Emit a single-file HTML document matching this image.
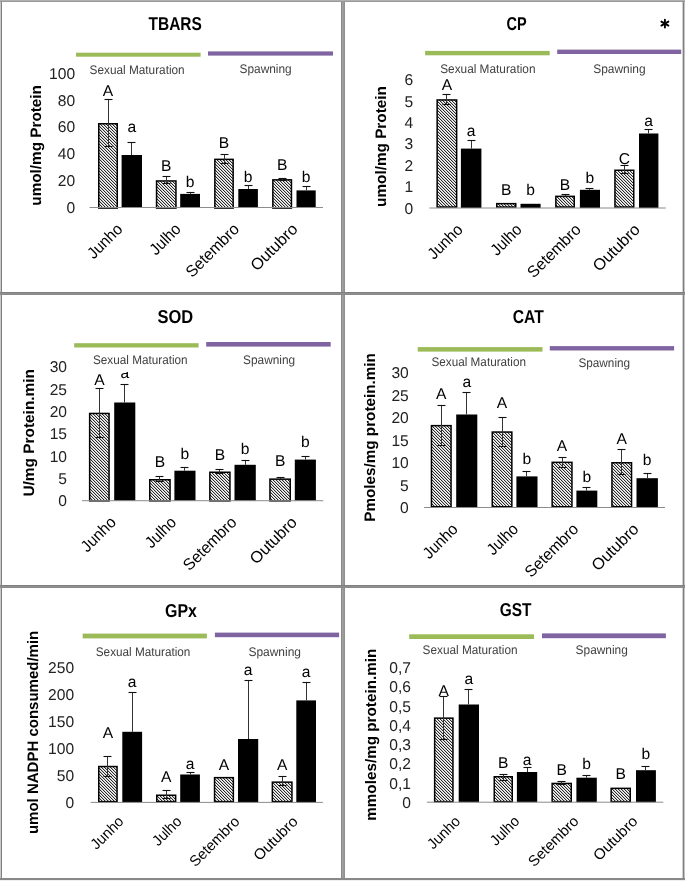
<!DOCTYPE html>
<html><head><meta charset="utf-8"><style>
html,body{margin:0;padding:0;background:#fff;width:685px;height:881px;overflow:hidden;font-family:"Liberation Sans", sans-serif;}
</style></head><body>
<svg width="685" height="881" viewBox="0 0 685 881" text-rendering="geometricPrecision" style="position:absolute;left:0;top:0;will-change:transform" font-family='"Liberation Sans", sans-serif'>
<defs><pattern id="hatch" patternUnits="userSpaceOnUse" x="0" y="0" width="3" height="3"><rect x="0" y="0" width="1" height="1" fill="#2a2a2a"/><rect x="1" y="0" width="1" height="1" fill="#c4c4c4"/><rect x="2" y="0" width="1" height="1" fill="#fafafa"/><rect x="1" y="1" width="1" height="1" fill="#2a2a2a"/><rect x="2" y="1" width="1" height="1" fill="#c4c4c4"/><rect x="0" y="1" width="1" height="1" fill="#fafafa"/><rect x="2" y="2" width="1" height="1" fill="#2a2a2a"/><rect x="0" y="2" width="1" height="1" fill="#c4c4c4"/><rect x="1" y="2" width="1" height="1" fill="#fafafa"/></pattern></defs>
<rect x="0" y="0" width="685" height="881" fill="#fff"/>
<clipPath id="c3"><rect x="0" y="372.0" width="685" height="881"/></clipPath>
<text x="148.50" y="29.70" font-size="18.7" font-weight="bold" text-anchor="start" fill="#000" textLength="53.40" lengthAdjust="spacingAndGlyphs" >TBARS</text>
<rect x="76" y="52.7" width="124.60" height="4.00" fill="#9BBB59"/>
<rect x="208" y="51.4" width="125.00" height="4.20" fill="#8064A2"/>
<text x="89.60" y="73.60" font-size="12.5" font-weight="normal" text-anchor="start" fill="#404040" textLength="95.10" lengthAdjust="spacingAndGlyphs" >Sexual Maturation</text>
<text x="239.60" y="72.80" font-size="12.5" font-weight="normal" text-anchor="start" fill="#404040" textLength="52.10" lengthAdjust="spacingAndGlyphs" >Spawning</text>
<text x="75.10" y="212.84" font-size="15.6" font-weight="normal" text-anchor="end" fill="#222" >0</text>
<text x="75.10" y="186.02" font-size="15.6" font-weight="normal" text-anchor="end" fill="#222" >20</text>
<text x="75.10" y="159.20" font-size="15.6" font-weight="normal" text-anchor="end" fill="#222" >40</text>
<text x="75.10" y="132.38" font-size="15.6" font-weight="normal" text-anchor="end" fill="#222" >60</text>
<text x="75.10" y="105.56" font-size="15.6" font-weight="normal" text-anchor="end" fill="#222" >80</text>
<text x="75.10" y="78.74" font-size="15.6" font-weight="normal" text-anchor="end" fill="#222" >100</text>
<text x="0.00" y="0.00" font-size="15.2" font-weight="bold" text-anchor="start" fill="#000" textLength="120.60" lengthAdjust="spacingAndGlyphs" transform="translate(40.60,205.70) rotate(-90)" >umol/mg Protein</text>
<rect x="98.75" y="123.75" width="18.50" height="84.30" fill="url(#hatch)" stroke="#000" stroke-width="1.5"/>
<line x1="108.50" y1="99.40" x2="108.50" y2="146.90" stroke="#333" stroke-width="1.0"/>
<line x1="104.50" y1="99.50" x2="112.50" y2="99.50" stroke="#111" stroke-width="1.1"/>
<line x1="104.50" y1="146.50" x2="112.50" y2="146.50" stroke="#111" stroke-width="1.1"/>
<text x="108.00" y="96.30" font-size="15.6" font-weight="normal" text-anchor="middle" fill="#000" >A</text>
<rect x="121.60" y="155.00" width="20.40" height="52.50" fill="#000"/>
<line x1="131.50" y1="142.20" x2="131.50" y2="155.00" stroke="#333" stroke-width="1.0"/>
<line x1="127.50" y1="142.50" x2="135.50" y2="142.50" stroke="#111" stroke-width="1.1"/>
<text x="131.80" y="132.20" font-size="15.6" font-weight="normal" text-anchor="middle" fill="#000" >a</text>
<rect x="156.55" y="180.95" width="19.40" height="27.10" fill="url(#hatch)" stroke="#000" stroke-width="1.5"/>
<line x1="166.50" y1="176.40" x2="166.50" y2="183.00" stroke="#333" stroke-width="1.0"/>
<line x1="162.50" y1="176.50" x2="170.50" y2="176.50" stroke="#111" stroke-width="1.1"/>
<line x1="162.50" y1="183.50" x2="170.50" y2="183.50" stroke="#111" stroke-width="1.1"/>
<text x="166.25" y="170.80" font-size="15.6" font-weight="normal" text-anchor="middle" fill="#000" >B</text>
<rect x="180.20" y="193.90" width="19.80" height="13.60" fill="#000"/>
<line x1="190.50" y1="192.00" x2="190.50" y2="193.90" stroke="#333" stroke-width="1.0"/>
<line x1="186.50" y1="192.50" x2="194.50" y2="192.50" stroke="#111" stroke-width="1.1"/>
<text x="190.10" y="186.60" font-size="15.6" font-weight="normal" text-anchor="middle" fill="#000" >b</text>
<rect x="214.85" y="159.35" width="18.30" height="48.70" fill="url(#hatch)" stroke="#000" stroke-width="1.5"/>
<line x1="224.50" y1="154.50" x2="224.50" y2="163.30" stroke="#333" stroke-width="1.0"/>
<line x1="220.50" y1="154.50" x2="228.50" y2="154.50" stroke="#111" stroke-width="1.1"/>
<line x1="220.50" y1="163.50" x2="228.50" y2="163.50" stroke="#111" stroke-width="1.1"/>
<text x="224.00" y="148.10" font-size="15.6" font-weight="normal" text-anchor="middle" fill="#000" >B</text>
<rect x="238.30" y="189.00" width="19.60" height="18.50" fill="#000"/>
<line x1="248.50" y1="185.70" x2="248.50" y2="189.00" stroke="#333" stroke-width="1.0"/>
<line x1="244.50" y1="185.50" x2="252.50" y2="185.50" stroke="#111" stroke-width="1.1"/>
<text x="248.10" y="181.90" font-size="15.6" font-weight="normal" text-anchor="middle" fill="#000" >b</text>
<rect x="272.85" y="179.85" width="18.60" height="28.20" fill="url(#hatch)" stroke="#000" stroke-width="1.5"/>
<line x1="282.50" y1="178.40" x2="282.50" y2="180.00" stroke="#333" stroke-width="1.0"/>
<line x1="278.50" y1="178.50" x2="286.50" y2="178.50" stroke="#111" stroke-width="1.1"/>
<line x1="278.50" y1="180.50" x2="286.50" y2="180.50" stroke="#111" stroke-width="1.1"/>
<text x="282.15" y="170.30" font-size="15.6" font-weight="normal" text-anchor="middle" fill="#000" >B</text>
<rect x="296.50" y="190.40" width="19.20" height="17.10" fill="#000"/>
<line x1="306.50" y1="186.40" x2="306.50" y2="190.40" stroke="#333" stroke-width="1.0"/>
<line x1="302.50" y1="186.50" x2="310.50" y2="186.50" stroke="#111" stroke-width="1.1"/>
<text x="306.10" y="181.90" font-size="15.6" font-weight="normal" text-anchor="middle" fill="#000" >b</text>
<rect x="89.5" y="207.00" width="233.50" height="1" fill="#8c8c8c"/>
<text x="0.00" y="0.00" font-size="16.2" font-weight="normal" text-anchor="end" fill="#000" textLength="42.00" lengthAdjust="spacingAndGlyphs" transform="translate(123.49,230.10) rotate(-45)" >Junho</text>
<text x="0.00" y="0.00" font-size="16.2" font-weight="normal" text-anchor="end" fill="#000" textLength="36.50" lengthAdjust="spacingAndGlyphs" transform="translate(181.86,230.10) rotate(-45)" >Julho</text>
<text x="0.00" y="0.00" font-size="16.2" font-weight="normal" text-anchor="end" fill="#000" textLength="68.00" lengthAdjust="spacingAndGlyphs" transform="translate(240.24,230.10) rotate(-45)" >Setembro</text>
<text x="0.00" y="0.00" font-size="16.2" font-weight="normal" text-anchor="end" fill="#000" textLength="59.00" lengthAdjust="spacingAndGlyphs" transform="translate(298.61,230.10) rotate(-45)" >Outubro</text>
<text x="506.60" y="29.80" font-size="18.7" font-weight="bold" text-anchor="start" fill="#000" textLength="20.10" lengthAdjust="spacingAndGlyphs" >CP</text>
<rect x="425.1" y="50.9" width="124.60" height="4.40" fill="#9BBB59"/>
<rect x="557.2" y="49.6" width="124.00" height="4.40" fill="#8064A2"/>
<text x="440.20" y="73.10" font-size="12.5" font-weight="normal" text-anchor="start" fill="#404040" textLength="95.30" lengthAdjust="spacingAndGlyphs" >Sexual Maturation</text>
<text x="593.20" y="72.80" font-size="12.5" font-weight="normal" text-anchor="start" fill="#404040" textLength="52.40" lengthAdjust="spacingAndGlyphs" >Spawning</text>
<text x="413.30" y="213.64" font-size="15.6" font-weight="normal" text-anchor="end" fill="#222" >0</text>
<text x="413.30" y="192.26" font-size="15.6" font-weight="normal" text-anchor="end" fill="#222" >1</text>
<text x="413.30" y="170.88" font-size="15.6" font-weight="normal" text-anchor="end" fill="#222" >2</text>
<text x="413.30" y="149.49" font-size="15.6" font-weight="normal" text-anchor="end" fill="#222" >3</text>
<text x="413.30" y="128.11" font-size="15.6" font-weight="normal" text-anchor="end" fill="#222" >4</text>
<text x="413.30" y="106.73" font-size="15.6" font-weight="normal" text-anchor="end" fill="#222" >5</text>
<text x="413.30" y="85.34" font-size="15.6" font-weight="normal" text-anchor="end" fill="#222" >6</text>
<text x="0.00" y="0.00" font-size="15.2" font-weight="bold" text-anchor="start" fill="#000" textLength="120.80" lengthAdjust="spacingAndGlyphs" transform="translate(385.70,206.90) rotate(-90)" >umol/mg Protein</text>
<rect x="437.15" y="99.95" width="19.50" height="107.10" fill="url(#hatch)" stroke="#000" stroke-width="1.5"/>
<line x1="446.50" y1="94.30" x2="446.50" y2="104.80" stroke="#333" stroke-width="1.0"/>
<line x1="442.50" y1="94.50" x2="450.50" y2="94.50" stroke="#111" stroke-width="1.1"/>
<line x1="442.50" y1="104.50" x2="450.50" y2="104.50" stroke="#111" stroke-width="1.1"/>
<text x="446.90" y="89.60" font-size="15.6" font-weight="normal" text-anchor="middle" fill="#000" >A</text>
<rect x="460.90" y="148.60" width="20.50" height="59.40" fill="#000"/>
<line x1="471.50" y1="140.30" x2="471.50" y2="148.60" stroke="#333" stroke-width="1.0"/>
<line x1="467.50" y1="140.50" x2="475.50" y2="140.50" stroke="#111" stroke-width="1.1"/>
<text x="471.15" y="135.70" font-size="15.6" font-weight="normal" text-anchor="middle" fill="#000" >a</text>
<rect x="496.75" y="203.65" width="19.00" height="3.40" fill="url(#hatch)" stroke="#000" stroke-width="1.5"/>
<text x="506.25" y="195.20" font-size="15.6" font-weight="normal" text-anchor="middle" fill="#000" >B</text>
<rect x="520.50" y="203.80" width="20.10" height="4.20" fill="#000"/>
<text x="530.55" y="195.20" font-size="15.6" font-weight="normal" text-anchor="middle" fill="#000" >b</text>
<rect x="555.85" y="196.35" width="18.40" height="10.70" fill="url(#hatch)" stroke="#000" stroke-width="1.5"/>
<line x1="565.50" y1="194.30" x2="565.50" y2="196.90" stroke="#333" stroke-width="1.0"/>
<line x1="561.50" y1="194.50" x2="569.50" y2="194.50" stroke="#111" stroke-width="1.1"/>
<line x1="561.50" y1="196.50" x2="569.50" y2="196.50" stroke="#111" stroke-width="1.1"/>
<text x="565.05" y="190.30" font-size="15.6" font-weight="normal" text-anchor="middle" fill="#000" >B</text>
<rect x="579.90" y="189.80" width="20.10" height="18.20" fill="#000"/>
<line x1="589.50" y1="188.10" x2="589.50" y2="189.80" stroke="#333" stroke-width="1.0"/>
<line x1="585.50" y1="188.50" x2="593.50" y2="188.50" stroke="#111" stroke-width="1.1"/>
<text x="589.95" y="182.80" font-size="15.6" font-weight="normal" text-anchor="middle" fill="#000" >b</text>
<rect x="614.95" y="170.25" width="18.80" height="36.80" fill="url(#hatch)" stroke="#000" stroke-width="1.5"/>
<line x1="624.50" y1="165.80" x2="624.50" y2="173.20" stroke="#333" stroke-width="1.0"/>
<line x1="620.50" y1="165.50" x2="628.50" y2="165.50" stroke="#111" stroke-width="1.1"/>
<line x1="620.50" y1="173.50" x2="628.50" y2="173.50" stroke="#111" stroke-width="1.1"/>
<text x="624.35" y="163.70" font-size="15.6" font-weight="normal" text-anchor="middle" fill="#000" >C</text>
<rect x="639.00" y="133.50" width="19.40" height="74.50" fill="#000"/>
<line x1="648.50" y1="129.00" x2="648.50" y2="133.50" stroke="#333" stroke-width="1.0"/>
<line x1="644.50" y1="129.50" x2="652.50" y2="129.50" stroke="#111" stroke-width="1.1"/>
<text x="648.70" y="125.70" font-size="15.6" font-weight="normal" text-anchor="middle" fill="#000" >a</text>
<rect x="429.4" y="207.50" width="236.40" height="1" fill="#8c8c8c"/>
<text x="0.00" y="0.00" font-size="16.2" font-weight="normal" text-anchor="end" fill="#000" textLength="42.00" lengthAdjust="spacingAndGlyphs" transform="translate(463.75,230.60) rotate(-45)" >Junho</text>
<text x="0.00" y="0.00" font-size="16.2" font-weight="normal" text-anchor="end" fill="#000" textLength="36.50" lengthAdjust="spacingAndGlyphs" transform="translate(522.85,230.60) rotate(-45)" >Julho</text>
<text x="0.00" y="0.00" font-size="16.2" font-weight="normal" text-anchor="end" fill="#000" textLength="68.00" lengthAdjust="spacingAndGlyphs" transform="translate(581.95,230.60) rotate(-45)" >Setembro</text>
<text x="0.00" y="0.00" font-size="16.2" font-weight="normal" text-anchor="end" fill="#000" textLength="59.00" lengthAdjust="spacingAndGlyphs" transform="translate(641.05,230.60) rotate(-45)" >Outubro</text>
<g stroke="#000" stroke-width="1.9" stroke-linecap="round"><line x1="664.9" y1="19.7" x2="664.9" y2="27.5"/><line x1="661.4" y1="21.6" x2="668.4" y2="25.6"/><line x1="661.4" y1="25.6" x2="668.4" y2="21.6"/></g>
<text x="157.40" y="323.40" font-size="18.7" font-weight="bold" text-anchor="start" fill="#000" textLength="35.70" lengthAdjust="spacingAndGlyphs" >SOD</text>
<rect x="74.2" y="343.2" width="124.40" height="4.30" fill="#9BBB59"/>
<rect x="206.2" y="342.0" width="124.50" height="4.60" fill="#8064A2"/>
<text x="93.00" y="364.40" font-size="12.5" font-weight="normal" text-anchor="start" fill="#404040" textLength="94.60" lengthAdjust="spacingAndGlyphs" >Sexual Maturation</text>
<text x="243.10" y="364.20" font-size="12.5" font-weight="normal" text-anchor="start" fill="#404040" textLength="52.00" lengthAdjust="spacingAndGlyphs" >Spawning</text>
<text x="67.00" y="506.24" font-size="15.6" font-weight="normal" text-anchor="end" fill="#222" >0</text>
<text x="67.00" y="483.91" font-size="15.6" font-weight="normal" text-anchor="end" fill="#222" >5</text>
<text x="67.00" y="461.58" font-size="15.6" font-weight="normal" text-anchor="end" fill="#222" >10</text>
<text x="67.00" y="439.24" font-size="15.6" font-weight="normal" text-anchor="end" fill="#222" >15</text>
<text x="67.00" y="416.91" font-size="15.6" font-weight="normal" text-anchor="end" fill="#222" >20</text>
<text x="67.00" y="394.58" font-size="15.6" font-weight="normal" text-anchor="end" fill="#222" >25</text>
<text x="67.00" y="372.24" font-size="15.6" font-weight="normal" text-anchor="end" fill="#222" >30</text>
<text x="0.00" y="0.00" font-size="15.2" font-weight="bold" text-anchor="start" fill="#000" textLength="127.60" lengthAdjust="spacingAndGlyphs" transform="translate(33.50,496.60) rotate(-90)" >U/mg Protein.min</text>
<rect x="89.65" y="413.45" width="19.40" height="87.40" fill="url(#hatch)" stroke="#000" stroke-width="1.5"/>
<line x1="99.50" y1="388.40" x2="99.50" y2="437.50" stroke="#333" stroke-width="1.0"/>
<line x1="95.50" y1="388.50" x2="103.50" y2="388.50" stroke="#111" stroke-width="1.1"/>
<line x1="95.50" y1="437.50" x2="103.50" y2="437.50" stroke="#111" stroke-width="1.1"/>
<text x="99.35" y="384.60" font-size="15.6" font-weight="normal" text-anchor="middle" fill="#000" clip-path="url(#c3)">A</text>
<rect x="114.20" y="402.50" width="21.10" height="98.20" fill="#000"/>
<line x1="124.50" y1="384.20" x2="124.50" y2="402.50" stroke="#333" stroke-width="1.0"/>
<line x1="120.50" y1="384.50" x2="128.50" y2="384.50" stroke="#111" stroke-width="1.1"/>
<text x="124.75" y="378.20" font-size="15.6" font-weight="normal" text-anchor="middle" fill="#000" clip-path="url(#c3)">a</text>
<rect x="149.75" y="479.75" width="20.30" height="21.10" fill="url(#hatch)" stroke="#000" stroke-width="1.5"/>
<line x1="159.50" y1="476.30" x2="159.50" y2="481.70" stroke="#333" stroke-width="1.0"/>
<line x1="155.50" y1="476.50" x2="163.50" y2="476.50" stroke="#111" stroke-width="1.1"/>
<line x1="155.50" y1="481.50" x2="163.50" y2="481.50" stroke="#111" stroke-width="1.1"/>
<text x="159.90" y="466.70" font-size="15.6" font-weight="normal" text-anchor="middle" fill="#000" clip-path="url(#c3)">B</text>
<rect x="174.40" y="470.70" width="21.10" height="30.00" fill="#000"/>
<line x1="184.50" y1="467.00" x2="184.50" y2="470.70" stroke="#333" stroke-width="1.0"/>
<line x1="180.50" y1="467.50" x2="188.50" y2="467.50" stroke="#111" stroke-width="1.1"/>
<text x="184.95" y="459.30" font-size="15.6" font-weight="normal" text-anchor="middle" fill="#000" clip-path="url(#c3)">b</text>
<rect x="209.85" y="472.25" width="20.10" height="28.60" fill="url(#hatch)" stroke="#000" stroke-width="1.5"/>
<line x1="219.50" y1="469.50" x2="219.50" y2="473.50" stroke="#333" stroke-width="1.0"/>
<line x1="215.50" y1="469.50" x2="223.50" y2="469.50" stroke="#111" stroke-width="1.1"/>
<line x1="215.50" y1="473.50" x2="223.50" y2="473.50" stroke="#111" stroke-width="1.1"/>
<text x="219.90" y="459.80" font-size="15.6" font-weight="normal" text-anchor="middle" fill="#000" clip-path="url(#c3)">B</text>
<rect x="234.50" y="464.80" width="21.30" height="35.90" fill="#000"/>
<line x1="245.50" y1="460.30" x2="245.50" y2="464.80" stroke="#333" stroke-width="1.0"/>
<line x1="241.50" y1="460.50" x2="249.50" y2="460.50" stroke="#111" stroke-width="1.1"/>
<text x="245.15" y="453.80" font-size="15.6" font-weight="normal" text-anchor="middle" fill="#000" clip-path="url(#c3)">b</text>
<rect x="269.95" y="479.15" width="20.30" height="21.70" fill="url(#hatch)" stroke="#000" stroke-width="1.5"/>
<line x1="280.50" y1="477.20" x2="280.50" y2="479.60" stroke="#333" stroke-width="1.0"/>
<line x1="276.50" y1="477.50" x2="284.50" y2="477.50" stroke="#111" stroke-width="1.1"/>
<line x1="276.50" y1="479.50" x2="284.50" y2="479.50" stroke="#111" stroke-width="1.1"/>
<text x="280.10" y="466.20" font-size="15.6" font-weight="normal" text-anchor="middle" fill="#000" clip-path="url(#c3)">B</text>
<rect x="294.80" y="459.60" width="21.10" height="41.10" fill="#000"/>
<line x1="305.50" y1="456.60" x2="305.50" y2="459.60" stroke="#333" stroke-width="1.0"/>
<line x1="301.50" y1="456.50" x2="309.50" y2="456.50" stroke="#111" stroke-width="1.1"/>
<text x="305.35" y="447.40" font-size="15.6" font-weight="normal" text-anchor="middle" fill="#000" clip-path="url(#c3)">b</text>
<rect x="82.0" y="500.20" width="241.30" height="1" fill="#8c8c8c"/>
<text x="0.00" y="0.00" font-size="16.2" font-weight="normal" text-anchor="end" fill="#000" textLength="42.00" lengthAdjust="spacingAndGlyphs" transform="translate(116.96,523.30) rotate(-45)" >Junho</text>
<text x="0.00" y="0.00" font-size="16.2" font-weight="normal" text-anchor="end" fill="#000" textLength="36.50" lengthAdjust="spacingAndGlyphs" transform="translate(177.29,523.30) rotate(-45)" >Julho</text>
<text x="0.00" y="0.00" font-size="16.2" font-weight="normal" text-anchor="end" fill="#000" textLength="68.00" lengthAdjust="spacingAndGlyphs" transform="translate(237.61,523.30) rotate(-45)" >Setembro</text>
<text x="0.00" y="0.00" font-size="16.2" font-weight="normal" text-anchor="end" fill="#000" textLength="59.00" lengthAdjust="spacingAndGlyphs" transform="translate(297.94,523.30) rotate(-45)" >Outubro</text>
<text x="512.80" y="323.40" font-size="18.7" font-weight="bold" text-anchor="start" fill="#000" textLength="31.00" lengthAdjust="spacingAndGlyphs" >CAT</text>
<rect x="417.7" y="347.1" width="124.80" height="4.50" fill="#9BBB59"/>
<rect x="549.8" y="346.1" width="124.30" height="4.40" fill="#8064A2"/>
<text x="431.50" y="366.40" font-size="12.5" font-weight="normal" text-anchor="start" fill="#404040" textLength="94.50" lengthAdjust="spacingAndGlyphs" >Sexual Maturation</text>
<text x="578.40" y="366.60" font-size="12.5" font-weight="normal" text-anchor="start" fill="#404040" textLength="51.70" lengthAdjust="spacingAndGlyphs" >Spawning</text>
<text x="408.80" y="512.94" font-size="15.6" font-weight="normal" text-anchor="end" fill="#222" >0</text>
<text x="408.80" y="490.53" font-size="15.6" font-weight="normal" text-anchor="end" fill="#222" >5</text>
<text x="408.80" y="468.11" font-size="15.6" font-weight="normal" text-anchor="end" fill="#222" >10</text>
<text x="408.80" y="445.69" font-size="15.6" font-weight="normal" text-anchor="end" fill="#222" >15</text>
<text x="408.80" y="423.28" font-size="15.6" font-weight="normal" text-anchor="end" fill="#222" >20</text>
<text x="408.80" y="400.86" font-size="15.6" font-weight="normal" text-anchor="end" fill="#222" >25</text>
<text x="408.80" y="378.44" font-size="15.6" font-weight="normal" text-anchor="end" fill="#222" >30</text>
<text x="0.00" y="0.00" font-size="15.2" font-weight="bold" text-anchor="start" fill="#000" textLength="168.50" lengthAdjust="spacingAndGlyphs" transform="translate(375.40,521.70) rotate(-90)" >Pmoles/mg protein.min</text>
<rect x="431.45" y="425.65" width="19.60" height="81.10" fill="url(#hatch)" stroke="#000" stroke-width="1.5"/>
<line x1="441.50" y1="405.80" x2="441.50" y2="445.00" stroke="#333" stroke-width="1.0"/>
<line x1="437.50" y1="405.50" x2="445.50" y2="405.50" stroke="#111" stroke-width="1.1"/>
<line x1="437.50" y1="445.50" x2="445.50" y2="445.50" stroke="#111" stroke-width="1.1"/>
<text x="441.25" y="399.30" font-size="15.6" font-weight="normal" text-anchor="middle" fill="#000" >A</text>
<rect x="456.20" y="414.50" width="21.10" height="93.00" fill="#000"/>
<line x1="466.50" y1="392.90" x2="466.50" y2="414.50" stroke="#333" stroke-width="1.0"/>
<line x1="462.50" y1="392.50" x2="470.50" y2="392.50" stroke="#111" stroke-width="1.1"/>
<text x="466.75" y="386.90" font-size="15.6" font-weight="normal" text-anchor="middle" fill="#000" >a</text>
<rect x="492.25" y="432.05" width="19.60" height="74.70" fill="url(#hatch)" stroke="#000" stroke-width="1.5"/>
<line x1="502.50" y1="417.40" x2="502.50" y2="446.00" stroke="#333" stroke-width="1.0"/>
<line x1="498.50" y1="417.50" x2="506.50" y2="417.50" stroke="#111" stroke-width="1.1"/>
<line x1="498.50" y1="446.50" x2="506.50" y2="446.50" stroke="#111" stroke-width="1.1"/>
<text x="502.05" y="408.00" font-size="15.6" font-weight="normal" text-anchor="middle" fill="#000" >A</text>
<rect x="516.40" y="476.40" width="21.10" height="31.10" fill="#000"/>
<line x1="526.50" y1="471.50" x2="526.50" y2="476.40" stroke="#333" stroke-width="1.0"/>
<line x1="522.50" y1="471.50" x2="530.50" y2="471.50" stroke="#111" stroke-width="1.1"/>
<text x="526.95" y="463.70" font-size="15.6" font-weight="normal" text-anchor="middle" fill="#000" >b</text>
<rect x="552.15" y="462.35" width="19.80" height="44.40" fill="url(#hatch)" stroke="#000" stroke-width="1.5"/>
<line x1="562.50" y1="457.60" x2="562.50" y2="467.00" stroke="#333" stroke-width="1.0"/>
<line x1="558.50" y1="457.50" x2="566.50" y2="457.50" stroke="#111" stroke-width="1.1"/>
<line x1="558.50" y1="467.50" x2="566.50" y2="467.50" stroke="#111" stroke-width="1.1"/>
<text x="562.05" y="450.60" font-size="15.6" font-weight="normal" text-anchor="middle" fill="#000" >A</text>
<rect x="576.40" y="490.60" width="20.90" height="16.90" fill="#000"/>
<line x1="586.50" y1="487.60" x2="586.50" y2="490.60" stroke="#333" stroke-width="1.0"/>
<line x1="582.50" y1="487.50" x2="590.50" y2="487.50" stroke="#111" stroke-width="1.1"/>
<text x="586.85" y="481.60" font-size="15.6" font-weight="normal" text-anchor="middle" fill="#000" >b</text>
<rect x="611.95" y="462.75" width="19.60" height="44.00" fill="url(#hatch)" stroke="#000" stroke-width="1.5"/>
<line x1="621.50" y1="449.10" x2="621.50" y2="474.50" stroke="#333" stroke-width="1.0"/>
<line x1="617.50" y1="449.50" x2="625.50" y2="449.50" stroke="#111" stroke-width="1.1"/>
<line x1="617.50" y1="474.50" x2="625.50" y2="474.50" stroke="#111" stroke-width="1.1"/>
<text x="621.75" y="444.40" font-size="15.6" font-weight="normal" text-anchor="middle" fill="#000" >A</text>
<rect x="636.50" y="478.20" width="21.40" height="29.30" fill="#000"/>
<line x1="647.50" y1="473.70" x2="647.50" y2="478.20" stroke="#333" stroke-width="1.0"/>
<line x1="643.50" y1="473.50" x2="651.50" y2="473.50" stroke="#111" stroke-width="1.1"/>
<text x="647.20" y="464.70" font-size="15.6" font-weight="normal" text-anchor="middle" fill="#000" >b</text>
<rect x="424.0" y="507.00" width="241.00" height="1" fill="#8c8c8c"/>
<text x="0.00" y="0.00" font-size="16.2" font-weight="normal" text-anchor="end" fill="#000" textLength="42.00" lengthAdjust="spacingAndGlyphs" transform="translate(458.93,530.10) rotate(-45)" >Junho</text>
<text x="0.00" y="0.00" font-size="16.2" font-weight="normal" text-anchor="end" fill="#000" textLength="36.50" lengthAdjust="spacingAndGlyphs" transform="translate(519.17,530.10) rotate(-45)" >Julho</text>
<text x="0.00" y="0.00" font-size="16.2" font-weight="normal" text-anchor="end" fill="#000" textLength="68.00" lengthAdjust="spacingAndGlyphs" transform="translate(579.42,530.10) rotate(-45)" >Setembro</text>
<text x="0.00" y="0.00" font-size="16.2" font-weight="normal" text-anchor="end" fill="#000" textLength="59.00" lengthAdjust="spacingAndGlyphs" transform="translate(639.67,530.10) rotate(-45)" >Outubro</text>
<text x="165.00" y="616.90" font-size="18.7" font-weight="bold" text-anchor="start" fill="#000" textLength="31.90" lengthAdjust="spacingAndGlyphs" >GPx</text>
<rect x="82.7" y="633.6" width="124.20" height="4.80" fill="#9BBB59"/>
<rect x="214.9" y="632.6" width="124.20" height="4.60" fill="#8064A2"/>
<text x="95.80" y="655.60" font-size="12.5" font-weight="normal" text-anchor="start" fill="#404040" textLength="94.60" lengthAdjust="spacingAndGlyphs" >Sexual Maturation</text>
<text x="248.40" y="655.50" font-size="12.5" font-weight="normal" text-anchor="start" fill="#404040" textLength="52.60" lengthAdjust="spacingAndGlyphs" >Spawning</text>
<text x="74.10" y="808.04" font-size="15.6" font-weight="normal" text-anchor="end" fill="#222" >0</text>
<text x="74.10" y="781.12" font-size="15.6" font-weight="normal" text-anchor="end" fill="#222" >50</text>
<text x="74.10" y="754.20" font-size="15.6" font-weight="normal" text-anchor="end" fill="#222" >100</text>
<text x="74.10" y="727.28" font-size="15.6" font-weight="normal" text-anchor="end" fill="#222" >150</text>
<text x="74.10" y="700.36" font-size="15.6" font-weight="normal" text-anchor="end" fill="#222" >200</text>
<text x="74.10" y="673.44" font-size="15.6" font-weight="normal" text-anchor="end" fill="#222" >250</text>
<text x="0.00" y="0.00" font-size="15.2" font-weight="bold" text-anchor="start" fill="#000" textLength="203.40" lengthAdjust="spacingAndGlyphs" transform="translate(37.70,834.10) rotate(-90)" >umol NADPH consumed/min</text>
<rect x="98.75" y="766.55" width="18.30" height="35.10" fill="url(#hatch)" stroke="#000" stroke-width="1.5"/>
<line x1="107.50" y1="756.20" x2="107.50" y2="776.00" stroke="#333" stroke-width="1.0"/>
<line x1="103.50" y1="756.50" x2="111.50" y2="756.50" stroke="#111" stroke-width="1.1"/>
<line x1="103.50" y1="776.50" x2="111.50" y2="776.50" stroke="#111" stroke-width="1.1"/>
<text x="107.90" y="737.70" font-size="15.6" font-weight="normal" text-anchor="middle" fill="#000" >A</text>
<rect x="122.30" y="731.80" width="19.80" height="70.60" fill="#000"/>
<line x1="132.50" y1="692.90" x2="132.50" y2="731.80" stroke="#333" stroke-width="1.0"/>
<line x1="128.50" y1="692.50" x2="136.50" y2="692.50" stroke="#111" stroke-width="1.1"/>
<text x="132.20" y="686.90" font-size="15.6" font-weight="normal" text-anchor="middle" fill="#000" >a</text>
<rect x="156.75" y="795.25" width="18.90" height="6.40" fill="url(#hatch)" stroke="#000" stroke-width="1.5"/>
<line x1="166.50" y1="790.90" x2="166.50" y2="798.10" stroke="#333" stroke-width="1.0"/>
<line x1="162.50" y1="790.50" x2="170.50" y2="790.50" stroke="#111" stroke-width="1.1"/>
<line x1="162.50" y1="798.50" x2="170.50" y2="798.50" stroke="#111" stroke-width="1.1"/>
<text x="166.20" y="782.40" font-size="15.6" font-weight="normal" text-anchor="middle" fill="#000" >A</text>
<rect x="180.20" y="774.50" width="19.70" height="27.90" fill="#000"/>
<line x1="190.50" y1="772.20" x2="190.50" y2="774.50" stroke="#333" stroke-width="1.0"/>
<line x1="186.50" y1="772.50" x2="194.50" y2="772.50" stroke="#111" stroke-width="1.1"/>
<text x="190.05" y="769.00" font-size="15.6" font-weight="normal" text-anchor="middle" fill="#000" >a</text>
<rect x="214.55" y="777.65" width="18.80" height="24.00" fill="url(#hatch)" stroke="#000" stroke-width="1.5"/>
<text x="223.95" y="769.70" font-size="15.6" font-weight="normal" text-anchor="middle" fill="#000" >A</text>
<rect x="238.00" y="739.00" width="20.20" height="63.40" fill="#000"/>
<line x1="248.50" y1="680.70" x2="248.50" y2="739.00" stroke="#333" stroke-width="1.0"/>
<line x1="244.50" y1="680.50" x2="252.50" y2="680.50" stroke="#111" stroke-width="1.1"/>
<text x="248.10" y="675.20" font-size="15.6" font-weight="normal" text-anchor="middle" fill="#000" >a</text>
<rect x="272.35" y="782.15" width="19.60" height="19.50" fill="url(#hatch)" stroke="#000" stroke-width="1.5"/>
<line x1="282.50" y1="776.40" x2="282.50" y2="785.80" stroke="#333" stroke-width="1.0"/>
<line x1="278.50" y1="776.50" x2="286.50" y2="776.50" stroke="#111" stroke-width="1.1"/>
<line x1="278.50" y1="785.50" x2="286.50" y2="785.50" stroke="#111" stroke-width="1.1"/>
<text x="282.15" y="769.70" font-size="15.6" font-weight="normal" text-anchor="middle" fill="#000" >A</text>
<rect x="296.30" y="700.40" width="19.70" height="102.00" fill="#000"/>
<line x1="306.50" y1="682.80" x2="306.50" y2="700.40" stroke="#333" stroke-width="1.0"/>
<line x1="302.50" y1="682.50" x2="310.50" y2="682.50" stroke="#111" stroke-width="1.1"/>
<text x="306.15" y="676.50" font-size="15.6" font-weight="normal" text-anchor="middle" fill="#000" >a</text>
<rect x="90.7" y="801.90" width="232.20" height="1" fill="#8c8c8c"/>
<text x="0.00" y="0.00" font-size="15.0" font-weight="normal" text-anchor="end" fill="#000" textLength="39.48" lengthAdjust="spacingAndGlyphs" transform="translate(124.52,822.40) rotate(-45)" >Junho</text>
<text x="0.00" y="0.00" font-size="15.0" font-weight="normal" text-anchor="end" fill="#000" textLength="34.31" lengthAdjust="spacingAndGlyphs" transform="translate(182.57,822.40) rotate(-45)" >Julho</text>
<text x="0.00" y="0.00" font-size="15.0" font-weight="normal" text-anchor="end" fill="#000" textLength="63.92" lengthAdjust="spacingAndGlyphs" transform="translate(240.62,822.40) rotate(-45)" >Setembro</text>
<text x="0.00" y="0.00" font-size="15.0" font-weight="normal" text-anchor="end" fill="#000" textLength="55.46" lengthAdjust="spacingAndGlyphs" transform="translate(298.68,822.40) rotate(-45)" >Outubro</text>
<text x="499.70" y="615.70" font-size="18.7" font-weight="bold" text-anchor="start" fill="#000" textLength="31.70" lengthAdjust="spacingAndGlyphs" >GST</text>
<rect x="409.2" y="634.3" width="124.80" height="4.70" fill="#9BBB59"/>
<rect x="542.0" y="633.4" width="123.90" height="4.80" fill="#8064A2"/>
<text x="422.60" y="654.00" font-size="12.5" font-weight="normal" text-anchor="start" fill="#404040" textLength="95.00" lengthAdjust="spacingAndGlyphs" >Sexual Maturation</text>
<text x="575.60" y="654.00" font-size="12.5" font-weight="normal" text-anchor="start" fill="#404040" textLength="52.20" lengthAdjust="spacingAndGlyphs" >Spawning</text>
<text x="410.90" y="808.04" font-size="15.6" font-weight="normal" text-anchor="end" fill="#222" >0</text>
<text x="410.90" y="788.74" font-size="15.6" font-weight="normal" text-anchor="end" fill="#222" >0,1</text>
<text x="410.90" y="769.44" font-size="15.6" font-weight="normal" text-anchor="end" fill="#222" >0,2</text>
<text x="410.90" y="750.14" font-size="15.6" font-weight="normal" text-anchor="end" fill="#222" >0,3</text>
<text x="410.90" y="730.84" font-size="15.6" font-weight="normal" text-anchor="end" fill="#222" >0,4</text>
<text x="410.90" y="711.54" font-size="15.6" font-weight="normal" text-anchor="end" fill="#222" >0,5</text>
<text x="410.90" y="692.24" font-size="15.6" font-weight="normal" text-anchor="end" fill="#222" >0,6</text>
<text x="410.90" y="672.94" font-size="15.6" font-weight="normal" text-anchor="end" fill="#222" >0,7</text>
<text x="0.00" y="0.00" font-size="15.2" font-weight="bold" text-anchor="start" fill="#000" textLength="172.20" lengthAdjust="spacingAndGlyphs" transform="translate(376.30,820.80) rotate(-90)" >mmoles/mg protein.min</text>
<rect x="434.65" y="718.15" width="18.30" height="83.50" fill="url(#hatch)" stroke="#000" stroke-width="1.5"/>
<line x1="443.50" y1="696.60" x2="443.50" y2="739.30" stroke="#333" stroke-width="1.0"/>
<line x1="439.50" y1="696.50" x2="447.50" y2="696.50" stroke="#111" stroke-width="1.1"/>
<line x1="439.50" y1="739.50" x2="447.50" y2="739.50" stroke="#111" stroke-width="1.1"/>
<text x="443.80" y="695.50" font-size="15.6" font-weight="normal" text-anchor="middle" fill="#000" >A</text>
<rect x="458.70" y="704.50" width="20.30" height="97.70" fill="#000"/>
<line x1="468.50" y1="689.60" x2="468.50" y2="704.50" stroke="#333" stroke-width="1.0"/>
<line x1="464.50" y1="689.50" x2="472.50" y2="689.50" stroke="#111" stroke-width="1.1"/>
<text x="468.85" y="684.40" font-size="15.6" font-weight="normal" text-anchor="middle" fill="#000" >a</text>
<rect x="494.25" y="776.75" width="18.00" height="24.90" fill="url(#hatch)" stroke="#000" stroke-width="1.5"/>
<line x1="503.50" y1="774.00" x2="503.50" y2="780.20" stroke="#333" stroke-width="1.0"/>
<line x1="499.50" y1="774.50" x2="507.50" y2="774.50" stroke="#111" stroke-width="1.1"/>
<line x1="499.50" y1="780.50" x2="507.50" y2="780.50" stroke="#111" stroke-width="1.1"/>
<text x="503.25" y="767.50" font-size="15.6" font-weight="normal" text-anchor="middle" fill="#000" >B</text>
<rect x="516.90" y="772.00" width="20.30" height="30.20" fill="#000"/>
<line x1="527.50" y1="767.50" x2="527.50" y2="772.00" stroke="#333" stroke-width="1.0"/>
<line x1="523.50" y1="767.50" x2="531.50" y2="767.50" stroke="#111" stroke-width="1.1"/>
<text x="527.05" y="764.70" font-size="15.6" font-weight="normal" text-anchor="middle" fill="#000" >a</text>
<rect x="552.15" y="783.45" width="19.10" height="18.20" fill="url(#hatch)" stroke="#000" stroke-width="1.5"/>
<line x1="561.50" y1="781.40" x2="561.50" y2="784.00" stroke="#333" stroke-width="1.0"/>
<line x1="557.50" y1="781.50" x2="565.50" y2="781.50" stroke="#111" stroke-width="1.1"/>
<line x1="557.50" y1="784.50" x2="565.50" y2="784.50" stroke="#111" stroke-width="1.1"/>
<text x="561.70" y="774.70" font-size="15.6" font-weight="normal" text-anchor="middle" fill="#000" >B</text>
<rect x="576.40" y="777.70" width="20.40" height="24.50" fill="#000"/>
<line x1="586.50" y1="775.00" x2="586.50" y2="777.70" stroke="#333" stroke-width="1.0"/>
<line x1="582.50" y1="775.50" x2="590.50" y2="775.50" stroke="#111" stroke-width="1.1"/>
<text x="586.60" y="768.70" font-size="15.6" font-weight="normal" text-anchor="middle" fill="#000" >b</text>
<rect x="611.15" y="788.35" width="19.10" height="13.30" fill="url(#hatch)" stroke="#000" stroke-width="1.5"/>
<text x="620.70" y="778.60" font-size="15.6" font-weight="normal" text-anchor="middle" fill="#000" >B</text>
<rect x="636.00" y="770.20" width="19.90" height="32.00" fill="#000"/>
<line x1="645.50" y1="766.30" x2="645.50" y2="770.20" stroke="#333" stroke-width="1.0"/>
<line x1="641.50" y1="766.50" x2="649.50" y2="766.50" stroke="#111" stroke-width="1.1"/>
<text x="645.95" y="759.30" font-size="15.6" font-weight="normal" text-anchor="middle" fill="#000" >b</text>
<rect x="426.9" y="801.70" width="236.40" height="1" fill="#8c8c8c"/>
<text x="0.00" y="0.00" font-size="15.0" font-weight="normal" text-anchor="end" fill="#000" textLength="39.48" lengthAdjust="spacingAndGlyphs" transform="translate(461.25,822.20) rotate(-45)" >Junho</text>
<text x="0.00" y="0.00" font-size="15.0" font-weight="normal" text-anchor="end" fill="#000" textLength="34.31" lengthAdjust="spacingAndGlyphs" transform="translate(520.35,822.20) rotate(-45)" >Julho</text>
<text x="0.00" y="0.00" font-size="15.0" font-weight="normal" text-anchor="end" fill="#000" textLength="63.92" lengthAdjust="spacingAndGlyphs" transform="translate(579.45,822.20) rotate(-45)" >Setembro</text>
<text x="0.00" y="0.00" font-size="15.0" font-weight="normal" text-anchor="end" fill="#000" textLength="55.46" lengthAdjust="spacingAndGlyphs" transform="translate(638.55,822.20) rotate(-45)" >Outubro</text>
<rect x="0" y="0" width="1" height="880" fill="#c8c8c8"/>
<rect x="1" y="0" width="1" height="880" fill="#808080"/>
<rect x="341" y="0" width="1" height="880" fill="#888888"/>
<rect x="342" y="0" width="1" height="880" fill="#a0a0a0"/>
<rect x="343" y="0" width="1" height="880" fill="#999999"/>
<rect x="344" y="0" width="1" height="880" fill="#909090"/>
<rect x="682" y="0" width="1" height="880" fill="#d0d0d0"/>
<rect x="683" y="0" width="1" height="880" fill="#808080"/>
<rect x="684" y="0" width="1" height="880" fill="#c4c4c4"/>
<rect x="0" y="0" width="685" height="1" fill="#b0b0b0"/>
<rect x="0" y="1" width="685" height="1" fill="#999999"/>
<rect x="0" y="292" width="685" height="1" fill="#808080"/>
<rect x="0" y="293" width="685" height="1" fill="#8f8f8f"/>
<rect x="0" y="294" width="685" height="1" fill="#8a8a8a"/>
<rect x="0" y="585" width="685" height="1" fill="#808080"/>
<rect x="0" y="586" width="685" height="1" fill="#8f8f8f"/>
<rect x="0" y="587" width="685" height="1" fill="#8a8a8a"/>
<rect x="0" y="878" width="685" height="1" fill="#888888"/>
<rect x="0" y="879" width="685" height="1" fill="#888888"/>
<rect x="0" y="880" width="685" height="1" fill="#eeeeee"/>
</svg>
</body></html>
